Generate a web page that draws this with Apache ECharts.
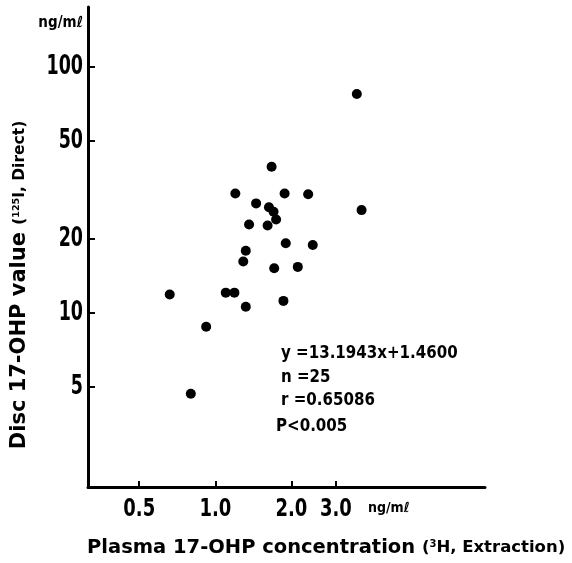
<!DOCTYPE html>
<html>
<head>
<meta charset="utf-8">
<script src="https://cdn.jsdelivr.net/npm/echarts@6/dist/echarts.min.js"></script>
<style>html,body{margin:0;padding:0;background:#fff;}#c{width:572px;height:563px;}</style>
</head>
<body>
<div id="c"></div>
<script>
// Plasma 17-OHP (ng/ml, 3H extraction) vs Disc 17-OHP (ng/ml, 125I direct)
const plasma = [1.67, 1.20, 1.88, 2.33, 1.45, 1.63, 1.70, 1.74, 3.79, 1.36, 1.61, 1.90, 2.43, 1.32, 1.29, 1.71, 2.12, 0.66, 1.10, 1.19, 1.86, 1.32, 0.92, 3.63, 0.80];
const disc   = [39.3, 30.6, 30.6, 30.4, 27.9, 26.9, 25.8, 24.0, 26.2, 22.9, 22.7, 19.2, 18.9, 17.9, 16.2, 15.2, 15.4, 11.9, 12.1, 12.1, 11.2, 10.6, 8.8, 77.7, 4.7];
const xTicks = [0.5, 1, 2, 3];
const xTickLabels = ['0.5', '1.0', '2.0', '3.0'];
const yTicks = [5, 10, 20, 50, 100];
const yTickLabels = ['5', '10', '20', '50', '100'];
const unitLabel = 'ng/mℓ';
const xTitle = 'Plasma 17-OHP concentration';
const xTitleParen = ['(', '3', 'H, Extraction)'];
const yTitle = 'Disc 17-OHP value';
const yTitleParen = ['(', '125', 'I, Direct)'];
const statLines = ['y =13.1943x+1.4600', 'n =25', 'r =0.65086', 'P<0.005'];

const numFont = '"DejaVu Sans Condensed", "Liberation Sans", sans-serif';
const txtFont = '"DejaVu Sans", sans-serif';
const X_MIN = 0.3135, X_MAX = 11.67, Y_MIN = 1.962, Y_MAX = 175.4;

const chart = echarts.init(document.getElementById('c'), null, {renderer: 'canvas'});
const baseGraphic = [
  {type: 'text', x: 83, y: 23, style: {text: unitLabel, fill: '#000', font: 'bold 15px ' + numFont, textAlign: 'right', textVerticalAlign: 'middle'}},
  {type: 'text', x: 368, y: 508, style: {text: unitLabel, fill: '#000', font: 'bold 14px ' + numFont, textAlign: 'left', textVerticalAlign: 'middle'}},
  {type: 'text', x: 87, y: 548, style: {
    text: xTitle + ' {p|' + xTitleParen[0] + '}{s|' + xTitleParen[1] + '}{p|' + xTitleParen[2] + '}',
    fill: '#000', fontFamily: txtFont, fontWeight: 'bold', fontSize: 19.5, textAlign: 'left', textVerticalAlign: 'middle',
    rich: {p: {fontFamily: txtFont, fontWeight: 'bold', fontSize: 16.5}, s: {fontFamily: txtFont, fontWeight: 'bold', fontSize: 10, padding: [0,0,7,0]}}
  }},
  {type: 'text', x: 20, y: 285, rotation: Math.PI / 2, style: {
    text: yTitle + ' {p|' + yTitleParen[0] + '}{s|' + yTitleParen[1] + '}{p|' + yTitleParen[2] + '}',
    fill: '#000', fontFamily: txtFont, fontWeight: 'bold', fontSize: 21, textAlign: 'center', textVerticalAlign: 'middle',
    rich: {p: {fontFamily: txtFont, fontWeight: 'bold', fontSize: 15.5}, s: {fontFamily: txtFont, fontWeight: 'bold', fontSize: 9.5, padding: [0,0,7,0]}}
  }},
  {type: 'text', x: 281, y: 353, scaleX: 0.93, style: {text: statLines[0], fill: '#000', font: 'bold 18px ' + numFont, textVerticalAlign: 'middle'}},
  {type: 'text', x: 281, y: 377, scaleX: 0.93, style: {text: statLines[1], fill: '#000', font: 'bold 18px ' + numFont, textVerticalAlign: 'middle'}},
  {type: 'text', x: 281, y: 400, scaleX: 0.93, style: {text: statLines[2], fill: '#000', font: 'bold 18px ' + numFont, textVerticalAlign: 'middle'}},
  {type: 'text', x: 276, y: 426, scaleX: 0.93, style: {text: statLines[3], fill: '#000', font: 'bold 18px ' + numFont, textVerticalAlign: 'middle'}}
];
const option = {
  backgroundColor: '#fff',
  animation: false,
  grid: {left: 88, right: 87, top: 7, bottom: 76, containLabel: false},
  xAxis: {
    type: 'log', logBase: 10, min: X_MIN, max: X_MAX,
    axisLine: {show: true, onZero: false, lineStyle: {color: '#000', width: 3}},
    axisTick: {show: true, inside: true, length: 6, lineStyle: {color: '#000', width: 2}, customValues: xTicks},
    axisLabel: {show: false},
    splitLine: {show: false}, minorTick: {show: false}
  },
  yAxis: {
    type: 'log', logBase: 10, min: Y_MIN, max: Y_MAX,
    axisLine: {show: true, onZero: false, lineStyle: {color: '#000', width: 3}},
    axisTick: {show: true, inside: true, length: 7, lineStyle: {color: '#000', width: 2}, customValues: yTicks},
    axisLabel: {show: false},
    splitLine: {show: false}, minorTick: {show: false}
  },
  series: [{
    type: 'scatter',
    data: plasma.map((x, i) => [x, disc[i]]),
    symbol: 'circle', symbolSize: 10,
    itemStyle: {color: '#000', opacity: 1}
  }],
  graphic: baseGraphic
};
chart.setOption(option);

// Tick labels (narrow bold digits) placed through the axes' own scales
const axisY = chart.convertToPixel({yAxisIndex: 0}, Y_MIN);
const axisX = chart.convertToPixel({xAxisIndex: 0}, X_MIN);
const tickGraphic = [];
xTicks.forEach((v, i) => {
  tickGraphic.push({type: 'text', x: chart.convertToPixel({xAxisIndex: 0}, v), y: axisY + 10, scaleX: 0.8,
    style: {text: xTickLabels[i], fill: '#000', font: 'bold 25px ' + numFont, textAlign: 'center', textVerticalAlign: 'top'}});
});
yTicks.forEach((v, i) => {
  tickGraphic.push({type: 'text', x: axisX - 5, y: chart.convertToPixel({yAxisIndex: 0}, v), scaleX: 0.72,
    style: {text: yTickLabels[i], fill: '#000', font: 'bold 27px ' + numFont, textAlign: 'right', textVerticalAlign: 'middle'}});
});
chart.setOption({graphic: baseGraphic.concat(tickGraphic)});
</script>
</body>
</html>
